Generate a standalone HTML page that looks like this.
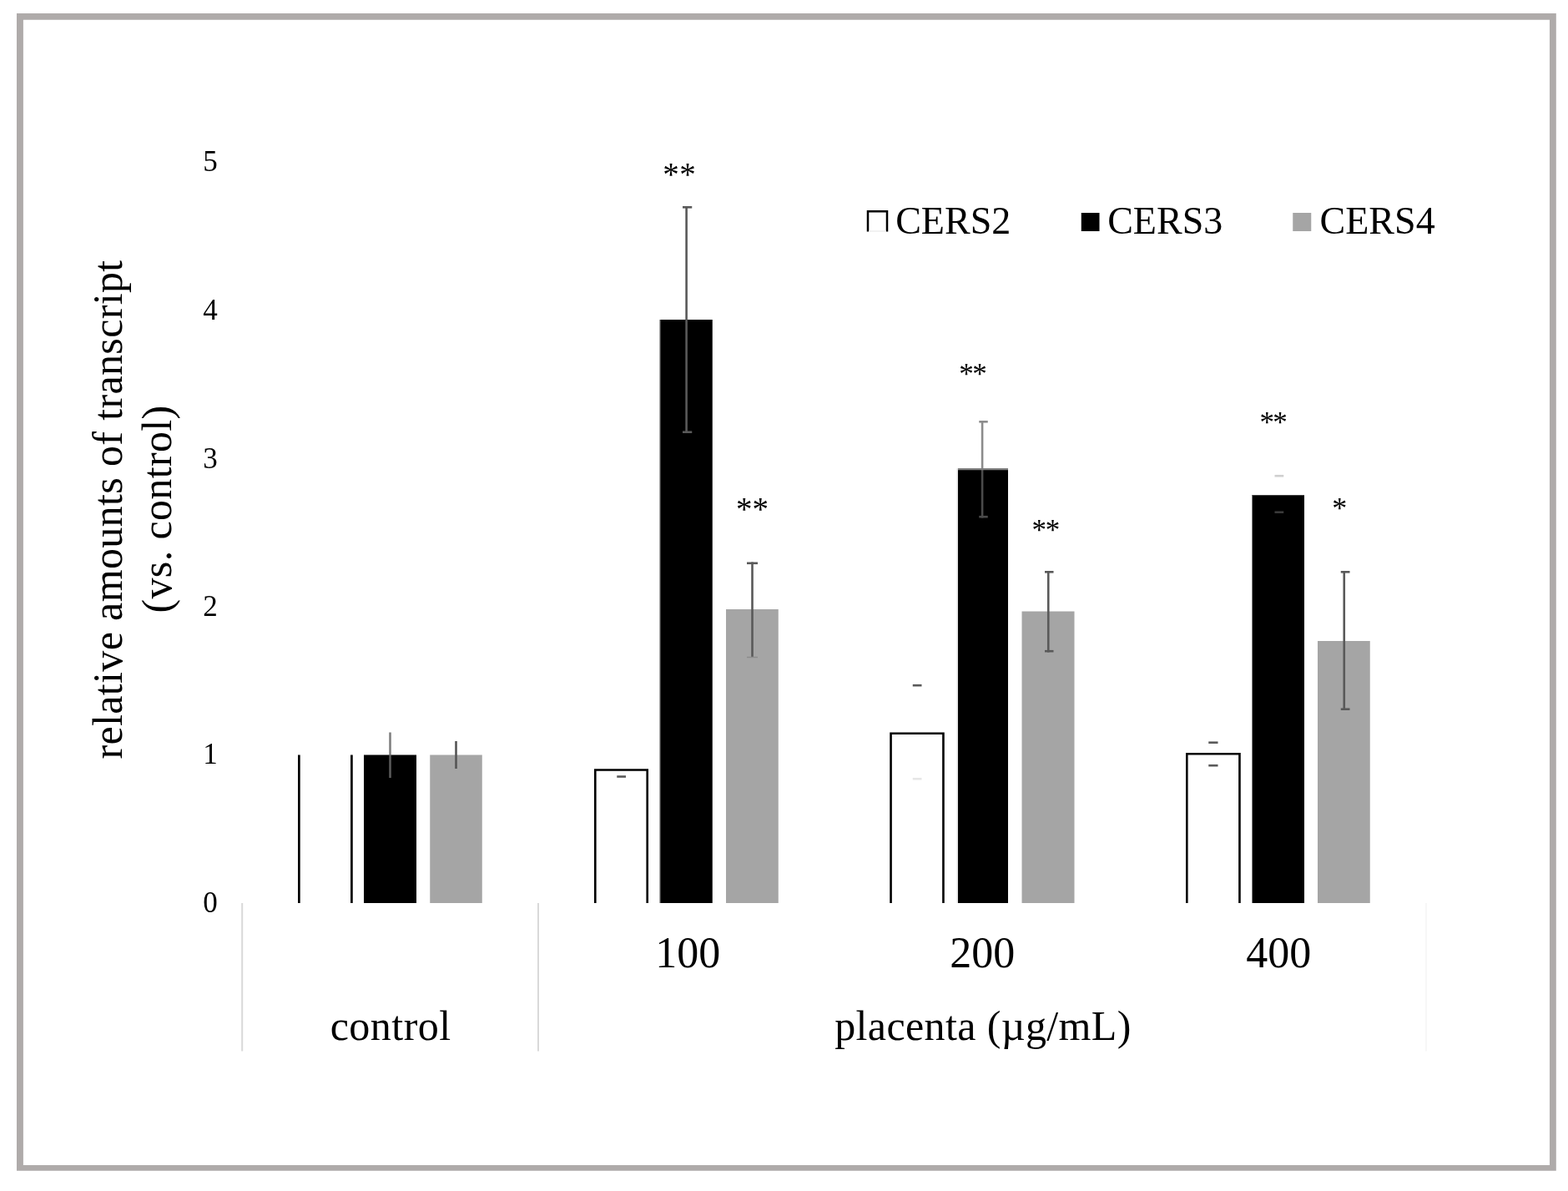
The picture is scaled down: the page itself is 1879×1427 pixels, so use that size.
<!DOCTYPE html>
<html lang="en"><head><meta charset="utf-8"><title>CERS transcript chart</title>
<style>
html,body{margin:0;padding:0;background:#fff;}
body{width:1879px;height:1427px;overflow:hidden;}
svg{display:block;}
text{font-family:"Liberation Serif","DejaVu Serif",serif;fill:#000;}
.yt{font-size:35px;text-anchor:middle;}
.xt{font-size:52px;text-anchor:middle;}
.xl{font-size:50px;text-anchor:middle;letter-spacing:0.46px;}
.lg{font-size:46px;}
.ti{font-size:50px;text-anchor:middle;letter-spacing:0.36px;}
</style></head><body>
<svg width="1879" height="1427" viewBox="0 0 1879 1427">
<rect x="0" y="0" width="1879" height="1427" fill="#ffffff"/>
<path d="M20 16 H1864.8 V1402.8 H20 Z M27.9 23.7 V1396 H1857 V23.7 Z" fill="#afabaa" fill-rule="evenodd"/>
<g stroke="#d9d9d9" stroke-width="2">
<line x1="290.2" y1="1082" x2="290.2" y2="1259.5"/>
<line x1="645" y1="1082" x2="645" y2="1259.5"/>
</g>
<line x1="1709" y1="1082" x2="1709" y2="1259.5" stroke="#f7f7f7" stroke-width="2"/>
<g id="bars">
<path d="M358.35 1082 V904.5 M421.4 904.5 V1082" fill="none" stroke="#000" stroke-width="2.7"/>
<rect x="436" y="904.5" width="63" height="177.5" fill="#000"/>
<rect x="515.25" y="904.5" width="62.5" height="177.5" fill="#a5a5a5"/>
<path d="M713.3 1082 V922.55 H775.7 V1082" fill="none" stroke="#000" stroke-width="2.6"/>
<rect x="790.75" y="383" width="63.0" height="699" fill="#000"/>
<rect x="870" y="730" width="62.75" height="352" fill="#a5a5a5"/>
<path d="M1067.55 1082 V878.8 H1130.45 V1082" fill="none" stroke="#000" stroke-width="2.6"/>
<rect x="1148" y="561.5" width="60" height="520.5" fill="#000"/>
<rect x="1224.5" y="732.5" width="63.0" height="349.5" fill="#a5a5a5"/>
<path d="M1422.3 1082 V903.3 H1485.45 V1082" fill="none" stroke="#000" stroke-width="2.6"/>
<rect x="1500" y="593.25" width="63" height="488.75" fill="#000"/>
<rect x="1579" y="768" width="62.75" height="314" fill="#a5a5a5"/>
</g>
<g id="errors">
<line x1="467.5" y1="877.5" x2="467.5" y2="904.5" stroke="#808080" stroke-width="2.6"/>
<line x1="467.5" y1="904.5" x2="467.5" y2="932" stroke="#5a5a5a" stroke-width="2.6"/>
<line x1="546.5" y1="888" x2="546.5" y2="921" stroke="#555" stroke-width="2.6"/>
<line x1="739.25" y1="930.5" x2="750" y2="930.5" stroke="#595959" stroke-width="2.6"/>
<line x1="822.6" y1="247" x2="822.6" y2="519" stroke="#595959" stroke-width="2.6"/>
<line x1="818" y1="248.3" x2="829.25" y2="248.3" stroke="#595959" stroke-width="2.6"/>
<line x1="818" y1="517.7" x2="829.25" y2="517.7" stroke="#595959" stroke-width="2.6"/>
<line x1="901.5" y1="673.5" x2="901.5" y2="787" stroke="#595959" stroke-width="2.6"/>
<line x1="895" y1="674.8" x2="908" y2="674.8" stroke="#595959" stroke-width="2.6"/>
<line x1="895" y1="787.5" x2="908" y2="787.5" stroke="#8c8c8c" stroke-width="1.5"/>
<line x1="1093.75" y1="821.2" x2="1104.5" y2="821.2" stroke="#595959" stroke-width="2.6"/>
<line x1="1093.75" y1="933.2" x2="1104.5" y2="933.2" stroke="#e6e6e6" stroke-width="2.6"/>
<line x1="1177.1" y1="504" x2="1177.1" y2="561.5" stroke="#8c8c8c" stroke-width="2.6"/>
<line x1="1173.25" y1="505.3" x2="1183.75" y2="505.3" stroke="#8c8c8c" stroke-width="2.6"/>
<line x1="1177.1" y1="561.5" x2="1177.1" y2="620.5" stroke="#4a4a4a" stroke-width="2.6"/>
<line x1="1173.25" y1="619.2" x2="1183.75" y2="619.2" stroke="#4a4a4a" stroke-width="2.6"/>
<line x1="1256.25" y1="684" x2="1256.25" y2="781.5" stroke="#595959" stroke-width="2.6"/>
<line x1="1252" y1="685.3" x2="1262.5" y2="685.3" stroke="#595959" stroke-width="2.6"/>
<line x1="1252" y1="780.2" x2="1262.5" y2="780.2" stroke="#595959" stroke-width="2.6"/>
<line x1="1448.25" y1="889.7" x2="1459.5" y2="889.7" stroke="#595959" stroke-width="2.6"/>
<line x1="1448.25" y1="917.2" x2="1459.5" y2="917.2" stroke="#595959" stroke-width="2.6"/>
<line x1="1527.5" y1="570.2" x2="1538.25" y2="570.2" stroke="#cfcfcf" stroke-width="2.6"/>
<line x1="1527.5" y1="613.7" x2="1538.25" y2="613.7" stroke="#3a3a3a" stroke-width="2.6"/>
<line x1="1610.75" y1="684" x2="1610.75" y2="851" stroke="#595959" stroke-width="2.6"/>
<line x1="1606.75" y1="685.3" x2="1617.5" y2="685.3" stroke="#595959" stroke-width="2.6"/>
<line x1="1606.75" y1="849.7" x2="1617.5" y2="849.7" stroke="#595959" stroke-width="2.6"/>
</g>
<rect x="790.75" y="383" width="1" height="699" fill="#555"/>
<rect x="1500" y="593.25" width="1" height="488.75" fill="#808080"/>
<rect x="1148" y="561.25" width="60" height="2" fill="#808080"/>
<rect x="1146.5" y="561.25" width="1.5" height="520.75" fill="#e0e0e0"/>
<g id="yticks">
<text class="yt" x="252" y="1093">0</text>
<text class="yt" x="252" y="915">1</text>
<text class="yt" x="252" y="738.25">2</text>
<text class="yt" x="252" y="560.75">3</text>
<text class="yt" x="252" y="383.4">4</text>
<text class="yt" x="252" y="205.4">5</text>
</g>
<g id="xticks">
<text class="xt" x="824.2" y="1159">100</text>
<text class="xt" x="1177.25" y="1159">200</text>
<text class="xt" x="1532.25" y="1159">400</text>
<text class="xl" x="468.2" y="1246.25" style="letter-spacing:0.5px">control</text>
<text class="xl" x="1178" y="1246.25" style="letter-spacing:0.38px">placenta (µg/mL)</text>
</g>
<g id="legend">
<path d="M1040 277.5 V253.3 H1063 V277.5" fill="none" stroke="#000" stroke-width="2.5"/>
<line x1="1041" y1="277" x2="1062" y2="277" stroke="#eeeeee" stroke-width="1.5"/>
<text class="lg" x="1073.2" y="279.5">CERS2</text>
<rect x="1295.75" y="255" width="21.75" height="22" fill="#000"/>
<text class="lg" x="1327.2" y="279.5">CERS3</text>
<rect x="1549.25" y="255" width="22" height="22" fill="#a5a5a5"/>
<text class="lg" x="1581.6" y="279.5">CERS4</text>
</g>
<g id="stars">
<text x="794.23" y="221.63" style="font-size:39px;letter-spacing:0.6px">**</text>
<text x="881.93" y="622.83" style="font-size:39px;letter-spacing:0.11px">**</text>
<text x="1149.22" y="459.58" style="font-size:35px;letter-spacing:-1.38px">**</text>
<text x="1236.42" y="646.88" style="font-size:35px;letter-spacing:-1.07px">**</text>
<text x="1509.42" y="517.83" style="font-size:35px;letter-spacing:-1.57px">**</text>
<text x="1596.13" y="620.67" style="font-size:36px;letter-spacing:0px">*</text>
</g>
<g id="ytitle">
<text class="ti" transform="translate(146 610.5) rotate(-90)">relative amounts of transcript</text>
<text class="ti" transform="translate(204.5 610) rotate(-90)">(vs. control)</text>
</g>
</svg>
</body></html>
